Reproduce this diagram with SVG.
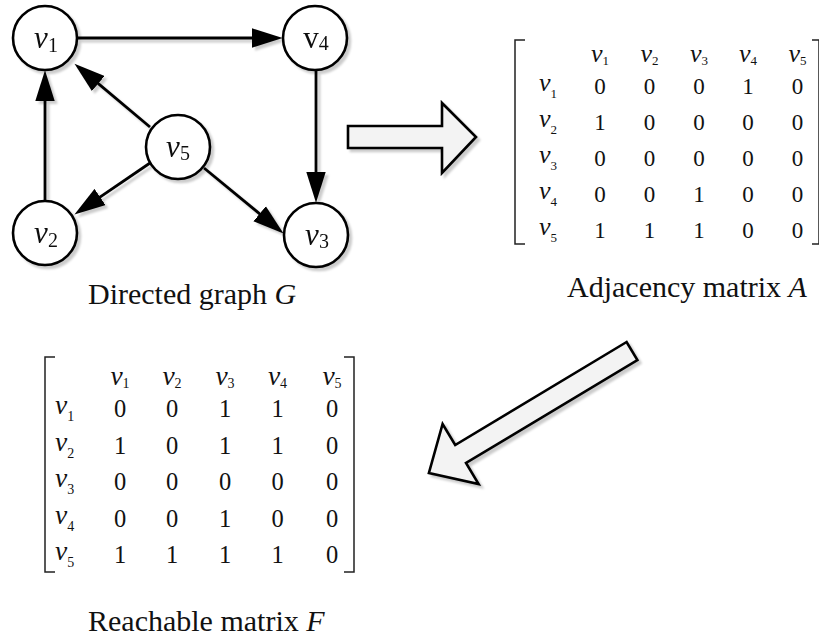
<svg xmlns="http://www.w3.org/2000/svg" width="819" height="639" viewBox="0 0 819 639">
<style>
text{font-family:"Liberation Serif","Times New Roman",serif;fill:#111}
.node{fill:#fff;stroke:#000;stroke-width:2.6}
.edge{fill:none;stroke:#000;stroke-width:2.8}
.nl{font-size:31px;text-anchor:middle}
.it{font-style:italic}
.ns{font-size:20px}
.block{fill:#f3f3f3;stroke:#000;stroke-width:2.6;stroke-linejoin:miter}
.br{fill:none;stroke:#222;stroke-width:1.5}
.ma{font-size:23px;text-anchor:middle}
.mav{font-size:26px}
.mas{font-size:13px}
.mf{font-size:24.5px;text-anchor:middle}
.mfv{font-size:27.5px}
.mfs{font-size:14px}
.rl{text-anchor:start}
.cap{font-size:30px}
</style>
<defs>
<filter id="sh" filterUnits="userSpaceOnUse" x="0" y="0" width="819" height="639">
<feGaussianBlur in="SourceAlpha" stdDeviation="1.2"/>
<feOffset dx="3" dy="3" result="o"/>
<feFlood flood-color="#000" flood-opacity="0.2"/>
<feComposite in2="o" operator="in"/>
<feMerge><feMergeNode/><feMergeNode in="SourceGraphic"/></feMerge>
</filter>
<marker id="ah" markerUnits="userSpaceOnUse" markerWidth="32" markerHeight="20" refX="10" refY="9.5" orient="auto" viewBox="0 0 31 19">
<path d="M0,0 L30,9.5 L0,19 Z" fill="#000"/>
</marker>
</defs>
<rect width="819" height="639" fill="#fff"/>

<g id="connectors" filter="url(#sh)">
<path class="edge" d="M78,38 L262,38" marker-end="url(#ah)"/>
<path class="edge" d="M316,71 L316,182" marker-end="url(#ah)"/>
<path class="edge" d="M45,200 L45,91" marker-end="url(#ah)"/>
<path class="edge" d="M150,127 L90.3,76.9" marker-end="url(#ah)"/>
<path class="edge" d="M150,163 L91.5,202.8" marker-end="url(#ah)"/>
<path class="edge" d="M204,168 L267.6,220.3" marker-end="url(#ah)"/>
</g>

<g id="node-v1" filter="url(#sh)">
<circle class="node" cx="45" cy="38" r="32"/>
<text class="nl" x="46" y="48"><tspan class="it">v</tspan><tspan class="ns" dy="4">1</tspan></text>
</g>
<g id="node-v4" filter="url(#sh)">
<circle class="node" cx="315" cy="38" r="32"/>
<text class="nl" x="316" y="48">v<tspan class="ns" dy="2">4</tspan></text>
</g>
<g id="node-v5" filter="url(#sh)">
<circle class="node" cx="178" cy="147" r="32"/>
<text class="nl" x="178" y="157"><tspan class="it">v</tspan><tspan class="ns" dy="3">5</tspan></text>
</g>
<g id="node-v2" filter="url(#sh)">
<circle class="node" cx="45" cy="233" r="32"/>
<text class="nl" x="46" y="243"><tspan class="it">v</tspan><tspan class="ns" dy="4">2</tspan></text>
</g>
<g id="node-v3" filter="url(#sh)">
<circle class="node" cx="316" cy="235" r="32"/>
<text class="nl" x="317" y="245"><tspan class="it">v</tspan><tspan class="ns" dy="3">3</tspan></text>
</g>

<text class="cap" x="88" y="304">Directed graph <tspan class="it">G</tspan></text>

<g id="arrow-right" filter="url(#sh)">
<path class="block" d="M348,126 H442 V103 L476,137 L442,173 V148 H348 Z"/>
</g>

<g id="matrix-A">
<path class="br" d="M525,40 H515 V244 H525"/>
<path class="br" d="M812,40 H819 V244 H812"/>
<g class="ma">
<text x="600" y="62"><tspan class="it mav">v</tspan><tspan class="mas" dy="3">1</tspan></text>
<text x="649.5" y="62"><tspan class="it mav">v</tspan><tspan class="mas" dy="3">2</tspan></text>
<text x="699" y="62"><tspan class="it mav">v</tspan><tspan class="mas" dy="3">3</tspan></text>
<text x="748" y="62"><tspan class="it mav">v</tspan><tspan class="mas" dy="3">4</tspan></text>
<text x="797.5" y="62"><tspan class="it mav">v</tspan><tspan class="mas" dy="3">5</tspan></text>
</g>
<g class="ma">
<text class="rl" x="539" y="91"><tspan class="it mav">v</tspan><tspan class="mas" dy="7">1</tspan></text>
<text class="rl" x="539" y="127"><tspan class="it mav">v</tspan><tspan class="mas" dy="7">2</tspan></text>
<text class="rl" x="539" y="163"><tspan class="it mav">v</tspan><tspan class="mas" dy="7">3</tspan></text>
<text class="rl" x="539" y="199"><tspan class="it mav">v</tspan><tspan class="mas" dy="7">4</tspan></text>
<text class="rl" x="539" y="235"><tspan class="it mav">v</tspan><tspan class="mas" dy="7">5</tspan></text>
</g>
<g class="ma">
<text x="600" y="94">0</text><text x="649.5" y="94">0</text><text x="699" y="94">0</text><text x="748" y="94">1</text><text x="797.5" y="94">0</text>
<text x="600" y="130">1</text><text x="649.5" y="130">0</text><text x="699" y="130">0</text><text x="748" y="130">0</text><text x="797.5" y="130">0</text>
<text x="600" y="166">0</text><text x="649.5" y="166">0</text><text x="699" y="166">0</text><text x="748" y="166">0</text><text x="797.5" y="166">0</text>
<text x="600" y="202">0</text><text x="649.5" y="202">0</text><text x="699" y="202">1</text><text x="748" y="202">0</text><text x="797.5" y="202">0</text>
<text x="600" y="238">1</text><text x="649.5" y="238">1</text><text x="699" y="238">1</text><text x="748" y="238">0</text><text x="797.5" y="238">0</text>
</g>
</g>

<text class="cap" x="567" y="297">Adjacency matrix <tspan class="it">A</tspan></text>

<g id="arrow-down" filter="url(#sh)">
<path class="block" d="M626.6,342 L455.2,445 L442.6,424 L428.9,473 L478.6,484 L466,463 L637.4,360 Z"/>
</g>

<g id="matrix-F">
<path class="br" d="M55,357 H45 V572 H55"/>
<path class="br" d="M344,357 H354 V572 H344"/>
<g class="mf">
<text x="120" y="385"><tspan class="it mfv">v</tspan><tspan class="mfs" dy="3">1</tspan></text>
<text x="172" y="385"><tspan class="it mfv">v</tspan><tspan class="mfs" dy="3">2</tspan></text>
<text x="225" y="385"><tspan class="it mfv">v</tspan><tspan class="mfs" dy="3">3</tspan></text>
<text x="277.5" y="385"><tspan class="it mfv">v</tspan><tspan class="mfs" dy="3">4</tspan></text>
<text x="332" y="385"><tspan class="it mfv">v</tspan><tspan class="mfs" dy="3">5</tspan></text>
</g>
<g class="mf">
<text class="rl" x="55" y="414"><tspan class="it mfv">v</tspan><tspan class="mfs" dy="7">1</tspan></text>
<text class="rl" x="55" y="450.6"><tspan class="it mfv">v</tspan><tspan class="mfs" dy="7">2</tspan></text>
<text class="rl" x="55" y="487.2"><tspan class="it mfv">v</tspan><tspan class="mfs" dy="7">3</tspan></text>
<text class="rl" x="55" y="523.8"><tspan class="it mfv">v</tspan><tspan class="mfs" dy="7">4</tspan></text>
<text class="rl" x="55" y="560.4"><tspan class="it mfv">v</tspan><tspan class="mfs" dy="7">5</tspan></text>
</g>
<g class="mf">
<text x="120" y="417">0</text><text x="172" y="417">0</text><text x="225" y="417">1</text><text x="277.5" y="417">1</text><text x="332" y="417">0</text>
<text x="120" y="453.6">1</text><text x="172" y="453.6">0</text><text x="225" y="453.6">1</text><text x="277.5" y="453.6">1</text><text x="332" y="453.6">0</text>
<text x="120" y="490.2">0</text><text x="172" y="490.2">0</text><text x="225" y="490.2">0</text><text x="277.5" y="490.2">0</text><text x="332" y="490.2">0</text>
<text x="120" y="526.8">0</text><text x="172" y="526.8">0</text><text x="225" y="526.8">1</text><text x="277.5" y="526.8">0</text><text x="332" y="526.8">0</text>
<text x="120" y="563.4">1</text><text x="172" y="563.4">1</text><text x="225" y="563.4">1</text><text x="277.5" y="563.4">1</text><text x="332" y="563.4">0</text>
</g>
</g>

<text class="cap" x="88" y="631">Reachable matrix <tspan class="it">F</tspan></text>
</svg>
